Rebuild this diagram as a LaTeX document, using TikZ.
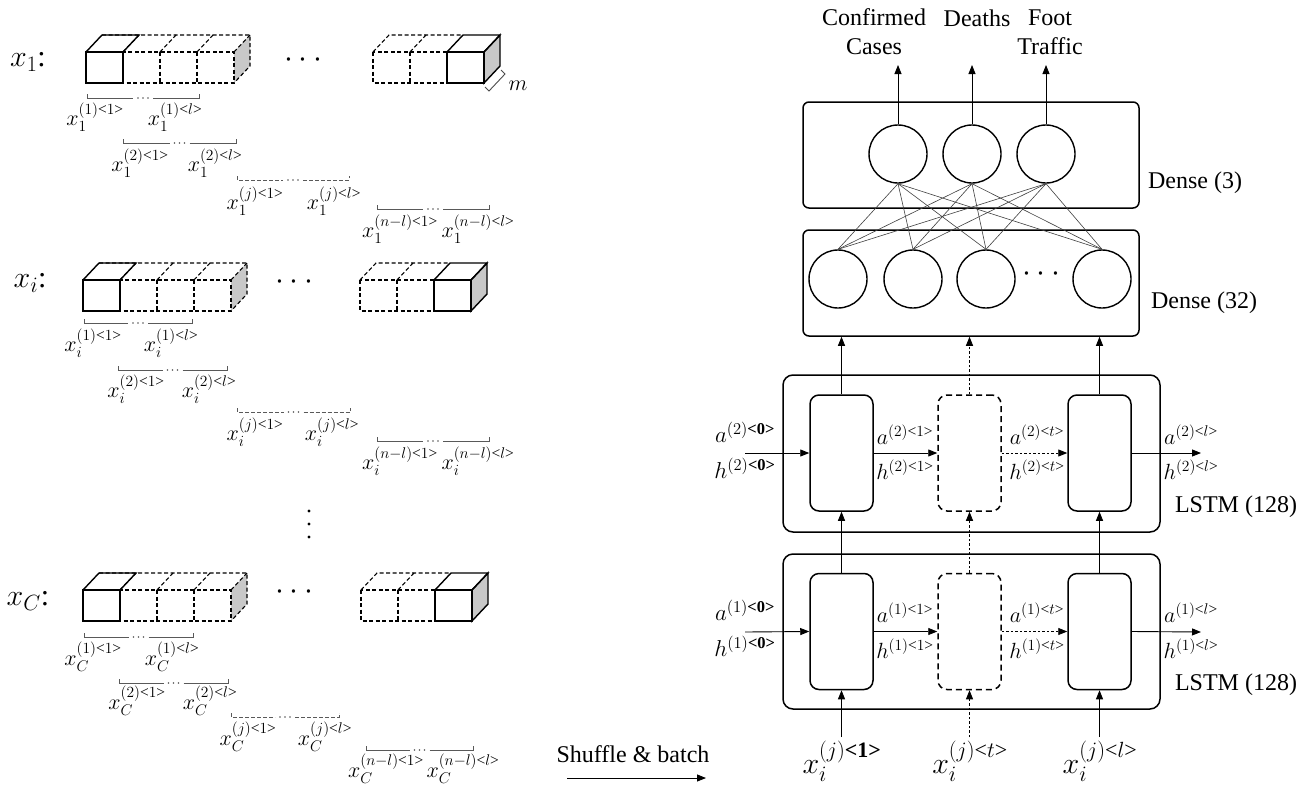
\RequirePackage{fix-cm}
\documentclass[tikz,border=0pt]{standalone}
\usepackage{amsmath}
\usepackage{fontspec}
\setmainfont{Liberation Serif}
\usetikzlibrary{arrows.meta,calc}
\DeclareMathSizes{22}{22}{15.5}{11.5}
\DeclareMathSizes{23}{23}{16.5}{12}
\DeclareMathSizes{30}{30}{22}{16}
\newcommand\ang[1]{\text{<}#1\text{>}}
\newcommand\bang[1]{\text{\bfseries <#1>}}
\definecolor{cubegray}{RGB}{200,200,200}
\tikzset{
 cubedash/.style={draw=black, line width=1.1pt, dash pattern=on 4pt off 2.5pt},
 cubesolid/.style={draw=black, line width=1.4pt},
 brkline/.style={draw=black!65, line width=0.8pt},
 lbl/.style={font=\fontsize{22}{24}\selectfont, inner sep=0pt},
 rowlbl/.style={font=\fontsize{30}{32}\selectfont, inner sep=0pt},
 txt/.style={font=\fontsize{24}{29}\selectfont, inner sep=0pt, align=center},
 dotstxt/.style={font=\fontsize{32}{34}\selectfont, inner sep=0pt},
 layerbox/.style={draw, line width=1.5pt, rounded corners=6pt},
 cellbox/.style={draw, line width=1.5pt, rounded corners=9pt, minimum width=63pt, minimum height=116pt},
 dashcell/.style={cellbox, dash pattern=on 6pt off 4pt},
 neuron/.style={draw, circle, line width=1.4pt, minimum size=58pt, inner sep=0pt},
 arr/.style={line width=0.9pt, -{Triangle[length=9pt,width=7pt]}},
 dotarr/.style={arr, dash pattern=on 2.5pt off 2pt},
 conn/.style={draw=black!75, line width=0.6pt},
 alab/.style={font=\fontsize{22}{24}\selectfont, inner sep=0pt},
 alabz/.style={font=\fontsize{23}{25}\selectfont, inner sep=0pt},
 inlab/.style={font=\fontsize{30}{32}\selectfont, inner sep=0pt},
}
% left group of four cubes (first solid)
\newcommand\leftgroup[2]{%
\begin{scope}[shift={(#1,#2)}]
 \fill[cubegray] (148,0) -- (164,-17) -- (164,14) -- (148,31) -- cycle;
 \draw[cubedash] (0,0) rectangle (148,31);
 \draw[cubedash] (16,-17) -- (164,-17) -- (164,14) -- (148,31);
 \draw[cubedash] (148,0) -- (164,-17);
 \foreach \u in {37,74,111} {\draw[cubedash] (\u,0) -- (\u,31); \draw[cubedash] (\u,0) -- (\u+16,-17);}
 \draw[cubesolid, fill=white] (0,0) rectangle (37,31);
 \draw[cubesolid] (0,0) -- (16,-17) -- (53,-17) -- (37,0);
\end{scope}}
% right group of three cubes (last solid)
\newcommand\rightgroup[2]{%
\begin{scope}[shift={(#1,#2)}]
 \draw[cubedash] (0,0) rectangle (74,31);
 \draw[cubedash] (37,0) -- (37,31);
 \draw[cubedash] (0,0) -- (16,-17) -- (90,-17);
 \draw[cubedash] (37,0) -- (53,-17);
 \draw[cubesolid, fill=cubegray] (111,0) -- (127,-17) -- (127,14) -- (111,31) -- cycle;
 \draw[cubesolid, fill=white] (74,0) rectangle (111,31);
 \draw[cubesolid] (74,0) -- (90,-17) -- (127,-17) -- (111,0);
\end{scope}}
% bracket: x1, x2, y, extra style
\newcommand\brk[4]{%
 \draw[brkline,#4] (#1,#3-4) -- (#1,#3) -- ({(#1+#2)/2-10},#3);
 \draw[brkline,#4] ({(#1+#2)/2+10},#3) -- (#2,#3) -- (#2,#3-4);
 \foreach \d in {-5,0,5} {\fill[black!65] ({(#1+#2)/2+\d},#3) circle (0.8pt);}
}
\begin{document}
\begin{tikzpicture}[x=1pt,y=-1pt]
\fill[white] (0,0) rectangle (1311,787);
\useasboundingbox (0,0) rectangle (1311,787);

% ---------------- left: sequences ----------------
\node[rowlbl] (r1) at (28,62) {$x_1$:};
\node[rowlbl] (ri) at (30,283) {$x_i$:};
\node[rowlbl] (rc) at (28,601) {$x_C$:};

\leftgroup{86}{52}
\rightgroup{373}{52}
\leftgroup{83}{280}
\rightgroup{360}{280}
\leftgroup{83}{590}
\rightgroup{361}{590}

\node[dotstxt] (dots1) at (306,60) {$\cdots$};
\node[dotstxt] (dotsi) at (297,282) {$\cdots$};
\node[dotstxt] (dotsc) at (297,592) {$\cdots$};

% m bracket
\draw[brkline, draw=black!70, line width=0.9pt] (485,87) -- (489,91) -- (505,74) -- (501,70);
\node[font=\fontsize{22}{24}\selectfont, inner sep=0pt] (mlab) at (518,86) {$m$};

% vertical dots
\foreach \yy in {511,524,537} {\fill (309,\yy) circle (1.6pt);}

% row 1 brackets
\brk{87}{199}{98}{}
\brk{123}{236}{143}{}
\brk{237}{349}{180}{dash pattern=on 4pt off 2pt}
\brk{377}{489}{209}{}
\node[lbl] (a11) at (95,117) {$x_1^{(1)\ang{1}}$};
\node[lbl] (a12) at (175,117) {$x_1^{(1)\ang{l}}$};
\node[lbl] (a21) at (140,163) {$x_1^{(2)\ang{1}}$};
\node[lbl] (a22) at (215,163) {$x_1^{(2)\ang{l}}$};
\node[lbl] (a31) at (255,201) {$x_1^{(j)\ang{1}}$};
\node[lbl] (a32) at (334,201) {$x_1^{(j)\ang{l}}$};
\node[lbl] (a41) at (400,229) {$x_1^{(n-l)\ang{1}}$};
\node[lbl] (a42) at (478,229) {$x_1^{(n-l)\ang{l}}$};

% row i brackets
\brk{84}{192}{323}{}
\brk{118}{227}{370}{}
\brk{237}{350}{412}{dash pattern=on 4pt off 2pt}
\brk{377}{489}{441}{}
\node[lbl] (b11) at (93,343) {$x_i^{(1)\ang{1}}$};
\node[lbl] (b12) at (171,343) {$x_i^{(1)\ang{l}}$};
\node[lbl] (b21) at (136,389) {$x_i^{(2)\ang{1}}$};
\node[lbl] (b22) at (209,389) {$x_i^{(2)\ang{l}}$};
\node[lbl] (b31) at (255,432) {$x_i^{(j)\ang{1}}$};
\node[lbl] (b32) at (332,432) {$x_i^{(j)\ang{l}}$};
\node[lbl] (b41) at (400,461) {$x_i^{(n-l)\ang{1}}$};
\node[lbl] (b42) at (478,461) {$x_i^{(n-l)\ang{l}}$};

% row C brackets
\brk{84}{193}{637}{}
\brk{119}{228}{683}{}
\brk{231}{339}{717}{dash pattern=on 4pt off 2pt}
\brk{366}{473}{750}{}
\node[lbl] (c11l) at (93,657) {$x_C^{(1)\ang{1}}$};
\node[lbl] (c12l) at (172,657) {$x_C^{(1)\ang{l}}$};
\node[lbl] (c21l) at (137,701) {$x_C^{(2)\ang{1}}$};
\node[lbl] (c22l) at (210,701) {$x_C^{(2)\ang{l}}$};
\node[lbl] (c31l) at (248,737) {$x_C^{(j)\ang{1}}$};
\node[lbl] (c32l) at (325,737) {$x_C^{(j)\ang{l}}$};
\node[lbl] (c41l) at (386,769) {$x_C^{(n-l)\ang{1}}$};
\node[lbl] (c42l) at (463,769) {$x_C^{(n-l)\ang{l}}$};

% shuffle & batch
\node[txt] (sb) at (633,754) {Shuffle \& batch};
\coordinate (sbL) at (567,778);
\coordinate (sbR) at (706,778);
\draw[arr] (sbL) -- (sbR);

% ---------------- right: network ----------------
\node[layerbox, minimum width=336pt, minimum height=106pt] (d3) at (971,155) {};
\node[layerbox, minimum width=336pt, minimum height=106pt] (d32) at (971,283) {};
\node[layerbox, rounded corners=10pt, minimum width=377pt, minimum height=157pt] (L2) at (971.5,453.5) {};
\node[layerbox, rounded corners=10pt, minimum width=377pt, minimum height=155pt] (L1) at (971.5,631.5) {};

\node[neuron] (o1) at (898,154) {};
\node[neuron] (o2) at (972,154) {};
\node[neuron] (o3) at (1046,154) {};
\node[neuron] (h1) at (838,279) {};
\node[neuron] (h2) at (913,279) {};
\node[neuron] (h3) at (986,279) {};
\node[neuron] (h4) at (1102,279) {};
\node[dotstxt] (hd) at (1044,274) {$\cdots$};

\foreach \a in {o1,o2,o3} {\foreach \b in {h1,h2,h3,h4} {\draw[conn] (\a.south) -- (\b.north);}}

\coordinate (t1) at (898,65);
\coordinate (t2) at (972,65);
\coordinate (t3) at (1046,65);
\draw[arr] (o1.north) -- (t1);
\draw[arr] (o2.north) -- (t2);
\draw[arr] (o3.north) -- (t3);
\node[txt] (lconf) at (874,32) {Confirmed\\Cases};
\node[txt] (ldeath) at (977,18) {Deaths};
\node[txt] (lfoot) at (1050,32) {Foot\\Traffic};

\node[txt] (ld3) at (1195,183) {Dense (3)};
\node[txt] (ld32) at (1204,303) {Dense (32)};
\node[txt] (ll2) at (1236,507) {LSTM (128)};
\node[txt] (ll1) at (1236,685) {LSTM (128)};

% cells
\node[cellbox] (c21) at (841.5,453) {};
\node[dashcell] (c22) at (969.5,453) {};
\node[cellbox] (c23) at (1099.5,453) {};
\node[cellbox] (c11) at (841.5,631.5) {};
\node[dashcell] (c12) at (969.5,631.5) {};
\node[cellbox] (c13) at (1099.5,631.5) {};

% horizontal arrows
\coordinate (in2) at (745,453);
\coordinate (out2) at (1201,453);
\coordinate (in1) at (745,632);
\coordinate (out1) at (1201,632);
\draw[arr] (in2) -- (c21.west);
\draw[arr] (c21.east) -- (c22.west);
\draw[dotarr] (c22.east) -- (c23.west);
\draw[arr] (c23.east) -- (out2);
\draw[arr] (in1) -- (c11.west);
\draw[arr] (c11.east) -- (c12.west);
\draw[dotarr] (c12.east) -- (c13.west);
\draw[arr] (c13.east) -- (out1);

% vertical arrows
\draw[arr] (c11.north) -- (c21.south);
\draw[dotarr] (c12.north) -- (c22.south);
\draw[arr] (c13.north) -- (c23.south);
\draw[arr] (c21.north) -- (c21.north |- d32.south);
\draw[dotarr] (c22.north) -- (c22.north |- d32.south);
\draw[arr] (c23.north) -- (c23.north |- d32.south);
\coordinate (bi1) at (841.5,737);
\coordinate (bi2) at (969.5,737);
\coordinate (bi3) at (1099.5,737);
\draw[arr] (bi1) -- (c11.south);
\draw[dotarr] (bi2) -- (c12.south);
\draw[arr] (bi3) -- (c13.south);

% state labels
\node[alabz] (sa20) at (745,432) {$a^{(2)\bang{0}}$};
\node[alabz] (sh20) at (745,468) {$h^{(2)\bang{0}}$};
\node[alab] (sa21) at (905,435) {$a^{(2)\ang{1}}$};
\node[alab] (sh21) at (905,470) {$h^{(2)\ang{1}}$};
\node[alab] (sa2t) at (1037,435) {$a^{(2)\ang{t}}$};
\node[alab] (sh2t) at (1037,470) {$h^{(2)\ang{t}}$};
\node[alab] (sa2l) at (1191,435) {$a^{(2)\ang{l}}$};
\node[alab] (sh2l) at (1191,470) {$h^{(2)\ang{l}}$};

\node[alabz] (sa10) at (745,610) {$a^{(1)\bang{0}}$};
\node[alabz] (sh10) at (745,646) {$h^{(1)\bang{0}}$};
\node[alab] (sa11) at (905,613) {$a^{(1)\ang{1}}$};
\node[alab] (sh11) at (905,649) {$h^{(1)\ang{1}}$};
\node[alab] (sa1t) at (1037,613) {$a^{(1)\ang{t}}$};
\node[alab] (sh1t) at (1037,649) {$h^{(1)\ang{t}}$};
\node[alab] (sa1l) at (1191,613) {$a^{(1)\ang{l}}$};
\node[alab] (sh1l) at (1191,649) {$h^{(1)\ang{l}}$};

% inputs
\node[inlab] (x1in) at (842,761) {$x_i^{(j)\bang{1}}$};
\node[inlab] (xtin) at (970,761) {$x_i^{(j)\ang{t}}$};
\node[inlab] (xlin) at (1100,761) {$x_i^{(j)\ang{l}}$};
\end{tikzpicture}
\end{document}
